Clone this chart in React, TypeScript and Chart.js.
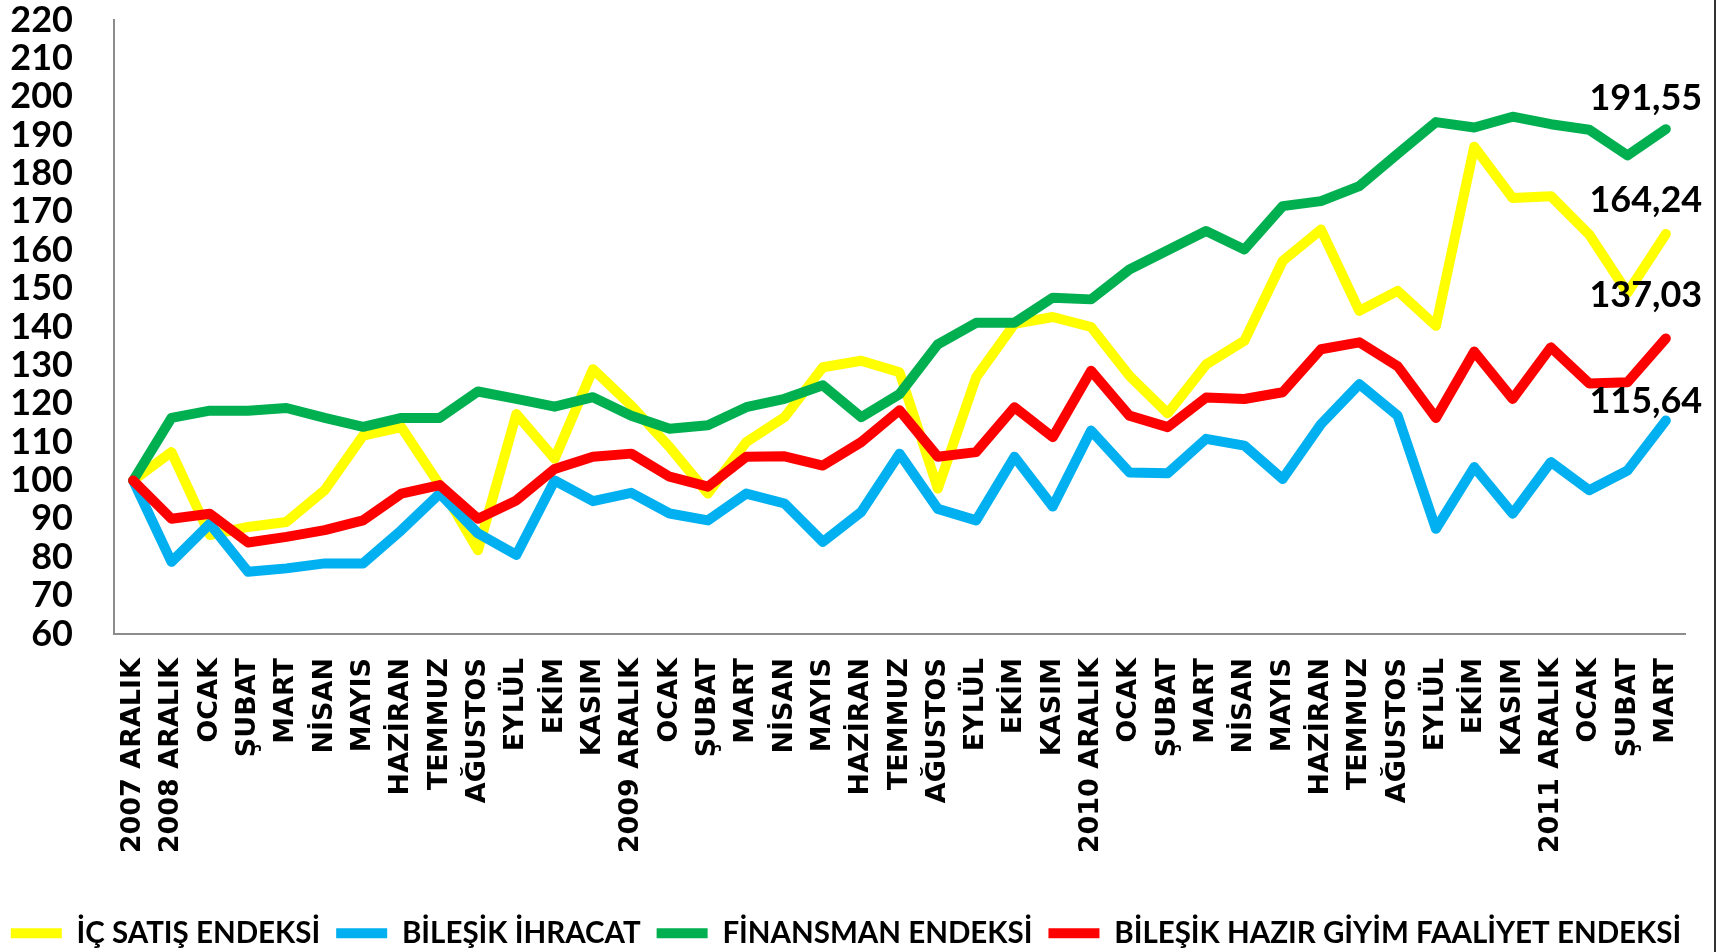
import React, { useEffect, useRef } from 'react';
import { Chart, registerables } from 'chart.js';

Chart.register(...registerables);

const categories = [
  '2007 ARALIK', '2008 ARALIK', 'OCAK', 'ŞUBAT', 'MART', 'NİSAN', 'MAYIS', 'HAZİRAN', 'TEMMUZ', 'AĞUSTOS',
  'EYLÜL', 'EKİM', 'KASIM', '2009 ARALIK', 'OCAK', 'ŞUBAT', 'MART', 'NİSAN', 'MAYIS', 'HAZİRAN',
  'TEMMUZ', 'AĞUSTOS', 'EYLÜL', 'EKİM', 'KASIM', '2010 ARALIK', 'OCAK', 'ŞUBAT', 'MART', 'NİSAN',
  'MAYIS', 'HAZİRAN', 'TEMMUZ', 'AĞUSTOS', 'EYLÜL', 'EKİM', 'KASIM', '2011 ARALIK', 'OCAK', 'ŞUBAT', 'MART',
];

const icSatisEndeksi = [
  100, 107.4, 85.8, 87.9, 89.2, 97.5, 111.7, 113.9, 98.8, 81.85,
  117.3, 105.65, 129.0, 119.5, 108.7, 96.6, 110.0, 116.5, 129.5, 131.2,
  128.2, 97.9, 126.9, 140.8, 142.6, 140.0, 127.3, 117.5, 130.2, 136.4,
  157.2, 165.4, 144.2, 149.4, 140.3, 187.0, 173.6, 174.1, 164.1, 148.95, 164.24,
];

const bilesikIhracat = [
  100, 78.8, 88.7, 76.2, 77.1, 78.4, 78.4, 87.05, 96.6, 86.2,
  80.6, 100.0, 94.6, 96.8, 91.4, 89.6, 96.6, 94.0, 84.0, 91.8,
  107.0, 92.6, 89.6, 106.2, 93.2, 113.0, 102.1, 101.9, 110.85, 109.1,
  100.4, 114.7, 125.1, 116.9, 87.4, 103.5, 91.35, 104.8, 97.45, 102.6, 115.64,
];

const finansmanEndeksi = [
  100, 116.3, 118.2, 118.2, 118.9, 116.3, 114.0, 116.3, 116.3, 123.2,
  121.25, 119.25, 121.7, 116.9, 113.5, 114.4, 119.1, 121.3, 124.8, 116.5,
  122.5, 135.5, 141.1, 141.1, 147.65, 147.2, 155.0, 160.0, 165.0, 160.2,
  171.5, 172.8, 176.7, 185.1, 193.4, 192.0, 194.8, 192.85, 191.4, 184.7, 191.55,
];

const hazirGiyimEndeksi = [
  100, 90.05, 91.35, 83.85, 85.3, 87.05, 89.6, 96.6, 98.8, 90.05,
  94.8, 103.0, 106.2, 107.0, 101.0, 98.4, 106.2, 106.3, 103.9, 110.0,
  118.3, 106.2, 107.4, 119.1, 111.3, 128.6, 116.9, 113.9, 121.6, 121.25,
  123.0, 134.2, 136.0, 129.8, 116.3, 133.6, 121.25, 134.7, 125.3, 125.6, 137.03,
];

const seriesLabels = [
  'İÇ SATIŞ ENDEKSİ',
  'BİLEŞİK İHRACAT',
  'FİNANSMAN ENDEKSİ',
  'BİLEŞİK HAZIR GİYİM FAALİYET ENDEKSİ',
];

const yMin = 60;
const yMax = 220;
const yStep = 10;

// style constants
const W = 1730;
const H = 952;
const PLOT_LEFT = 114;
const PLOT_RIGHT = 1685;
const PLOT_TOP = 20;
const PLOT_BOTTOM = 634;
const LEFT_PAD = -12;
const RIGHT_PAD = 26;
const BOTTOM_PAD = -6;
const seriesColors = ['#FFFF00', '#00B0F0', '#00B050', '#FF0000'];
const drawOrder = [4, 3, 2, 1];
const endLabelOffsets = [
  [-20, -34],
  [-20, -19],
  [-20, -31],
  [-20, -43],
];

const endLabelPlugin = {
  id: 'endLabels',
  afterDatasetsDraw(chart: any) {
    const ctx = chart.ctx;
    ctx.save();
    ctx.font = 'bold 36px Lato';
    ctx.fillStyle = '#000';
    ctx.textAlign = 'center';
    ctx.textBaseline = 'middle';
    chart.data.datasets.forEach((ds: any, i: number) => {
      const meta = chart.getDatasetMeta(i);
      const pt = meta.data[meta.data.length - 1];
      const v = ds.data[ds.data.length - 1] as number;
      const off = endLabelOffsets[i];
      ctx.fillText(v.toFixed(2).replace('.', ','), pt.x + off[0], pt.y + off[1]);
    });
    ctx.restore();
  },
};

const frameLinePlugin = {
  id: 'frameLine',
  afterDraw(chart: any) {
    const ctx = chart.ctx;
    ctx.save();
    ctx.fillStyle = '#333';
    ctx.fillRect(1714, 0, 2, chart.height);
    ctx.restore();
  },
};

export default function App() {
  const ref = useRef<HTMLCanvasElement | null>(null);

  useEffect(() => {
    if (!ref.current) return;
    const seriesData = [icSatisEndeksi, bilesikIhracat, finansmanEndeksi, hazirGiyimEndeksi];
    const chart = new Chart(ref.current, {
      type: 'line',
      data: {
        labels: categories,
        datasets: seriesData.map((d, i) => ({
          label: seriesLabels[i],
          data: d,
          borderColor: seriesColors[i],
          backgroundColor: seriesColors[i],
          borderWidth: 10,
          borderCapStyle: 'round',
          borderJoinStyle: 'round',
          pointRadius: 0,
          pointHoverRadius: 0,
          tension: 0,
          fill: false,
          order: drawOrder[i],
          yAxisID: 'y',
        })),
      },
      options: {
        animation: false,
        responsive: false,
        maintainAspectRatio: false,
        layout: {
          padding: { left: LEFT_PAD, right: RIGHT_PAD, top: PLOT_TOP, bottom: BOTTOM_PAD },
        },
        plugins: {
          tooltip: { enabled: false },
          legend: {
            position: 'bottom',
            labels: {
              usePointStyle: true,
              pointStyle: 'line',
              pointStyleWidth: 51,
              padding: 16,
              color: '#000',
              font: { family: 'Lato', weight: 'bold', size: 29.5 },
              sort: (a: any, b: any) => a.datasetIndex - b.datasetIndex,
            },
          },
        },
        scales: {
          x: {
            type: 'category',
            offset: true,
            grid: { display: false, drawTicks: false },
            border: { display: true, color: '#8c8c8c', width: 2 },
            ticks: {
              autoSkip: false,
              minRotation: 90,
              maxRotation: 90,
              padding: 24,
              color: '#000',
              font: { family: 'DejaVu Sans', weight: 'bold', size: 27 },
            },
            afterFit: (scale: any) => {
              const lh = scale.chart.legend ? scale.chart.legend.height : 0;
              scale.height = H - BOTTOM_PAD - lh - PLOT_BOTTOM;
            },
          },
          y: {
            position: 'left',
            min: yMin,
            max: yMax,
            grid: {
              display: true,
              drawOnChartArea: false,
              drawTicks: true,
              tickLength: 41,
              color: 'rgba(0,0,0,0)',
            },
            border: { display: true, color: '#8c8c8c', width: 2 },
            ticks: {
              stepSize: yStep,
              autoSkip: false,
              padding: 0,
              color: '#000',
              font: { family: 'Lato', weight: 'bold', size: 36, lineHeight: 0.9 },
            },
            afterFit: (scale: any) => {
              scale.width = PLOT_LEFT - LEFT_PAD;
            },
          },
          yRight: {
            position: 'right',
            display: true,
            grid: { display: false, drawTicks: false },
            border: { display: false },
            ticks: { display: false },
            afterFit: (scale: any) => {
              scale.width = W - RIGHT_PAD - PLOT_RIGHT;
            },
          },
        },
      },
      plugins: [endLabelPlugin, frameLinePlugin],
    } as any);
    return () => chart.destroy();
  }, []);

  return (
    <div style={{ position: 'fixed', left: 0, top: 0, width: W, height: H, background: '#fff' }}>
      <canvas ref={ref} width={W} height={H} style={{ width: W, height: H, display: 'block' }} />
    </div>
  );
}
